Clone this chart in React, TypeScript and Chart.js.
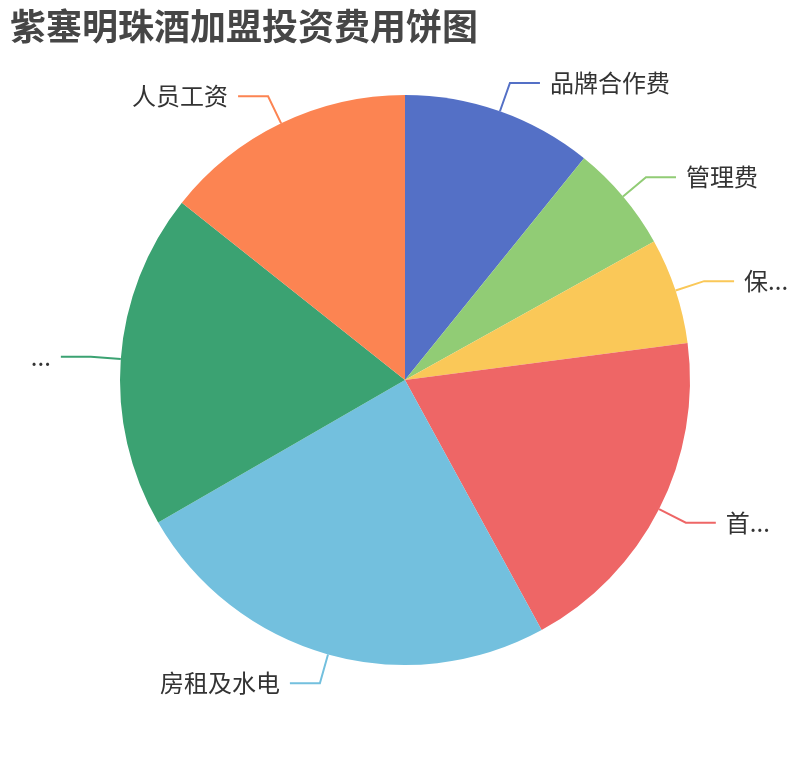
import { Chart, registerables, type Plugin } from 'chart.js';
import { type FC, useEffect, useRef } from 'react';

Chart.register(...registerables);

const title = '紫塞明珠酒加盟投资费用饼图';

// slice names as they appear on the chart (the long ones are cut short there)
const categories = ['品牌合作费', '管理费', '保...', '首...', '房租及水电', '...', '人员工资'];

// share of the whole
const values = [10.8, 6.1, 6.0, 19.1, 24.6, 19.0, 14.3];

const palette = ['#5470c6', '#91cc75', '#fac858', '#ee6666', '#73c0de', '#3ba272', '#fc8452'];

const FONT = '"Noto Sans CJK SC", "Noto Sans", sans-serif';

// outside labels with a bent leader line, like the original
const pieLabels: Plugin<'pie'> = {
  id: 'pieLabels',
  afterDatasetsDraw(chart) {
    const { ctx } = chart;
    const meta = chart.getDatasetMeta(0);
    const names = chart.data.labels as string[];

    ctx.save();
    ctx.font = `24px ${FONT}`;
    ctx.textBaseline = 'middle';
    ctx.lineWidth = 2;

    meta.data.forEach((el, i) => {
      const { x, y, startAngle, endAngle, outerRadius } = el.getProps(
        ['x', 'y', 'startAngle', 'endAngle', 'outerRadius'],
        true,
      ) as { x: number; y: number; startAngle: number; endAngle: number; outerRadius: number };
      const mid = (startAngle + endAngle) / 2;
      const cos = Math.cos(mid);
      const sin = Math.sin(mid);
      const dir = cos >= 0 ? 1 : -1;

      const x1 = x + cos * outerRadius;
      const y1 = y + sin * outerRadius;
      const x2 = x + cos * (outerRadius + 30);
      const y2 = y + sin * (outerRadius + 30);
      const x3 = x2 + dir * 30;

      ctx.strokeStyle = palette[i % palette.length];
      ctx.beginPath();
      ctx.moveTo(x1, y1);
      ctx.lineTo(x2, y2);
      ctx.lineTo(x3, y2);
      ctx.stroke();

      ctx.fillStyle = '#333';
      ctx.textAlign = dir > 0 ? 'left' : 'right';
      ctx.fillText(names[i], x3 + dir * 10, y2);
    });

    ctx.restore();
  },
  afterDraw(chart) {
    const { ctx } = chart;
    ctx.save();
    ctx.font = `bold 36px ${FONT}`;
    ctx.fillStyle = '#464646';
    ctx.textAlign = 'left';
    ctx.textBaseline = 'middle';
    ctx.fillText(title, 10, 26);
    ctx.restore();
  },
};

const App: FC = () => {
  const canvasRef = useRef<HTMLCanvasElement>(null);
  const chartRef = useRef<Chart<'pie'> | null>(null);

  useEffect(() => {
    if (!canvasRef.current) return;

    const context = canvasRef.current.getContext('2d');
    if (!context) return;

    chartRef.current = new Chart(context, {
      type: 'pie',
      data: {
        labels: categories,
        datasets: [
          {
            data: values,
            backgroundColor: palette,
            borderWidth: 0,
          },
        ],
      },
      options: {
        animation: false,
        responsive: true,
        maintainAspectRatio: false,
        events: [],
        layout: { padding: { left: 120, right: 120, top: 95, bottom: 95 } },
        plugins: {
          legend: { display: false },
          tooltip: { enabled: false },
        },
      },
      plugins: [pieLabels],
    });

    return () => {
      chartRef.current?.destroy();
    };
  }, []);

  return (
    <div style={{ position: 'absolute', left: 0, top: 0, width: 810, height: 760, background: '#fff' }}>
      <canvas ref={canvasRef} />
    </div>
  );
};

export default App;
